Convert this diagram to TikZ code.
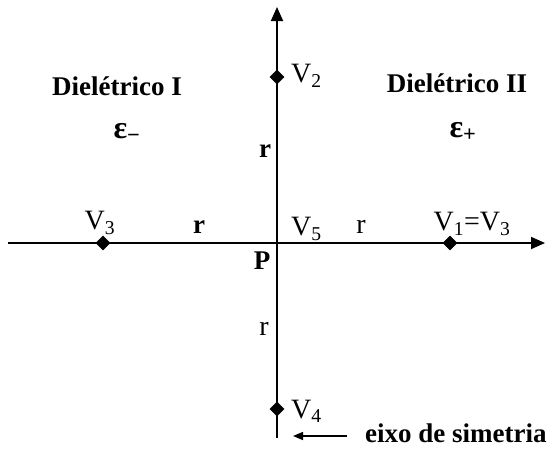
\documentclass[tikz,border=0pt]{standalone}
\usepackage{fontspec}
\setmainfont{Liberation Serif}
\usetikzlibrary{arrows.meta,shapes.geometric}
\begin{document}
\begin{tikzpicture}[x=1pt,y=-1pt,
  axis/.style={line width=1.8pt,-{Triangle[length=14pt,width=12pt]}},
  pt/.style={diamond,fill=black,inner sep=0pt,minimum size=15pt},
  lab/.style={font=\fontsize{28}{28}\selectfont,inner sep=0pt},
  big/.style={font=\fontsize{27}{27}\selectfont\bfseries,inner sep=0pt},
  eps/.style={font=\fontsize{32}{32}\selectfont\bfseries,inner sep=0pt}]
\useasboundingbox (0,0) rectangle (551,466);
\coordinate (xl) at (8,243);
\coordinate (xr) at (545,243);
\coordinate (yb) at (277,438);
\coordinate (yt) at (277,7);
\draw[axis] (xl) -- (xr);
\draw[axis] (yb) -- (yt);
\node[pt] (v3) at (103,243) {};
\node[pt] (v1) at (450,243) {};
\node[pt] (v2) at (277,77) {};
\node[pt] (v4) at (277,409) {};
\node[lab,anchor=west] (l2) at (291,76) {V\textsubscript{2}};
\node[lab] (l3) at (100,223) {V\textsubscript{3}};
\node[lab] (l1) at (472,224) {V\textsubscript{1}=V\textsubscript{3}};
\node[lab,anchor=west] (l4) at (291,411) {V\textsubscript{4}};
\node[lab,anchor=west] (l5) at (291,229) {V\textsubscript{5}};
\node[big] (d1) at (117,86) {Dielétrico I};
\node[big] (d2) at (457,83) {Dielétrico II};
\node[eps] (e1) at (127,133) {ε\textsubscript{−}};
\node[eps] (e2) at (463,132) {ε\textsubscript{+}};
\node[big] (ru) at (265,151) {r};
\node[big] (rl) at (199,227) {r};
\node[lab] (rr) at (361,227) {r};
\node[lab] (rd) at (264,329) {r};
\node[big] (p) at (262,261) {P};
\node[big,anchor=west] (eixo) at (365,433) {eixo de simetria};
\coordinate (a0) at (347,436);
\coordinate (a1) at (293,436);
\draw[line width=1.5pt,-{Triangle[length=10pt,width=8pt]}] (a0) -- (a1);
\end{tikzpicture}
\end{document}
